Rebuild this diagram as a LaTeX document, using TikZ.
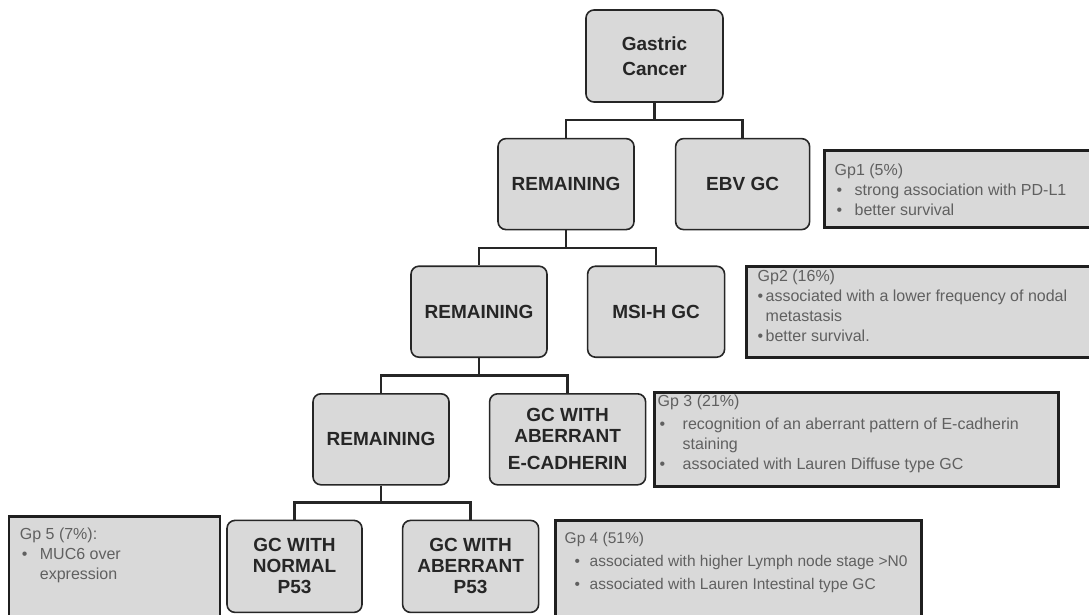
\documentclass[tikz,border=0pt]{standalone}
\usepackage{fontspec}
\setmainfont{Liberation Sans}
\usetikzlibrary{positioning}
\definecolor{boxgray}{RGB}{217,217,217}
\definecolor{notegray}{RGB}{96,96,96}
\definecolor{edgedark}{RGB}{38,38,38}
% text block of a group box: width, height, body
\newcommand{\gpnote}[3]{\begin{minipage}[t][#2][t]{#1}\raggedright #3\end{minipage}}
% bullet line with hanging indent: [bullet offset]{indent}{text}
\newcommand{\gpitem}[3][0pt]{\par\hangindent=#2\hangafter=1\noindent\makebox[#2][l]{\hspace{#1}\textbullet}#3}

\begin{document}
\begin{tikzpicture}[font=\fontsize{19}{21}\selectfont\bfseries,
      b/.style={rectangle, rounded corners=8pt, draw=edgedark, line width=1.6pt, fill=boxgray,
                text=edgedark, align=center, minimum width=136pt, minimum height=91pt, inner sep=2pt},
      g/.style={rectangle, draw=black!88, line width=2.6pt, fill=boxgray, text=notegray,
                font=\fontsize{16}{20}\selectfont\mdseries, inner xsep=10pt, inner ysep=4pt},
      link/.style={line width=2.3pt, edgedark}]
    \useasboundingbox (0,0) rectangle (1089pt,-614pt);
    \node[b, minimum width=137pt, minimum height=92pt] (gc) at (654.5pt,-56pt) {Gastric\\[4pt]Cancer};
    \node[b, below=35pt of gc, xshift=-88.5pt] (rem1) {REMAINING};
    \node[b, minimum width=134pt, right=40pt of rem1] (ebv) {EBV GC};
    \node[g, right=13pt of ebv, yshift=-5pt] (gp1) {\gpnote{246pt}{69pt}{\vspace*{9pt}Gp1 (5\%)
        \gpitem[2pt]{20pt}{strong association with PD-L1}
        \gpitem[2pt]{20pt}{better survival}}};
    \node[b, below=35pt of rem1, xshift=-87pt] (rem2) {REMAINING};
    \node[b, minimum width=137pt, right=39pt of rem2] (msi) {MSI-H GC};
    \node[g, inner xsep=11pt, right=20pt of msi] (gp2) {\gpnote{328pt}{83pt}{Gp2 (16\%)
        \gpitem{8pt}{associated with a lower frequency of nodal\newline metastasis}
        \gpitem{8pt}{better survival.}}};
    \node[b, below=35pt of rem2, xshift=-98pt] (rem3) {REMAINING};
    \node[b, minimum width=156pt, right=39pt of rem3] (ecad) {GC WITH\\ABERRANT\\[6pt]E-CADHERIN};
    \node[g, inner xsep=3pt, inner ysep=3pt, right=7pt of ecad] (gp3) {\gpnote{398pt}{88pt}{Gp 3 (21\%)\par\vspace{3pt}
        \gpitem[2pt]{25pt}{recognition of an aberrant pattern of E-cadherin\newline staining}
        \gpitem[2pt]{25pt}{associated with Lauren Diffuse type GC}}};
    \node[b, minimum width=135pt, minimum height=92pt, below=34pt of rem3, xshift=-86.5pt] (norm) {GC WITH\\NORMAL\\P53};
    \node[b, minimum height=92pt, right=39pt of norm] (abp) {GC WITH\\ABERRANT\\P53};
    \node[g, inner xsep=9pt, font=\fontsize{15.5}{23}\selectfont\mdseries, right=15pt of abp, yshift=-3pt] (gp4) {\gpnote{348pt}{90pt}{\vspace*{8pt}Gp 4 (51\%)
        \gpitem[10pt]{25pt}{associated with higher Lymph node stage >N0}
        \gpitem[10pt]{25pt}{associated with Lauren Intestinal type GC}}};
    \node[g, inner xsep=11pt, left=5pt of norm] (gp5) {\gpnote{189pt}{92pt}{\vspace*{7pt}Gp 5 (7\%):
        \gpitem[2pt]{20pt}{MUC6 over\newline expression}}};
    \draw[link] (gc.south) -- ++(0,-17.5pt) -| (rem1.north);
    \draw[link] (gc.south) -- ++(0,-17.5pt) -| (ebv.north);
    \draw[link] (rem1.south) -- ++(0,-17.5pt) -| (rem2.north);
    \draw[link] (rem1.south) -- ++(0,-17.5pt) -| (msi.north);
    \draw[link] (rem2.south) -- ++(0,-17.5pt) -| (rem3.north);
    \draw[link] (rem2.south) -- ++(0,-17.5pt) -| (ecad.north);
    \draw[link] (rem3.south) -- ++(0,-17pt) -| (norm.north);
    \draw[link] (rem3.south) -- ++(0,-17pt) -| (abp.north);
  \end{tikzpicture}
\end{document}
